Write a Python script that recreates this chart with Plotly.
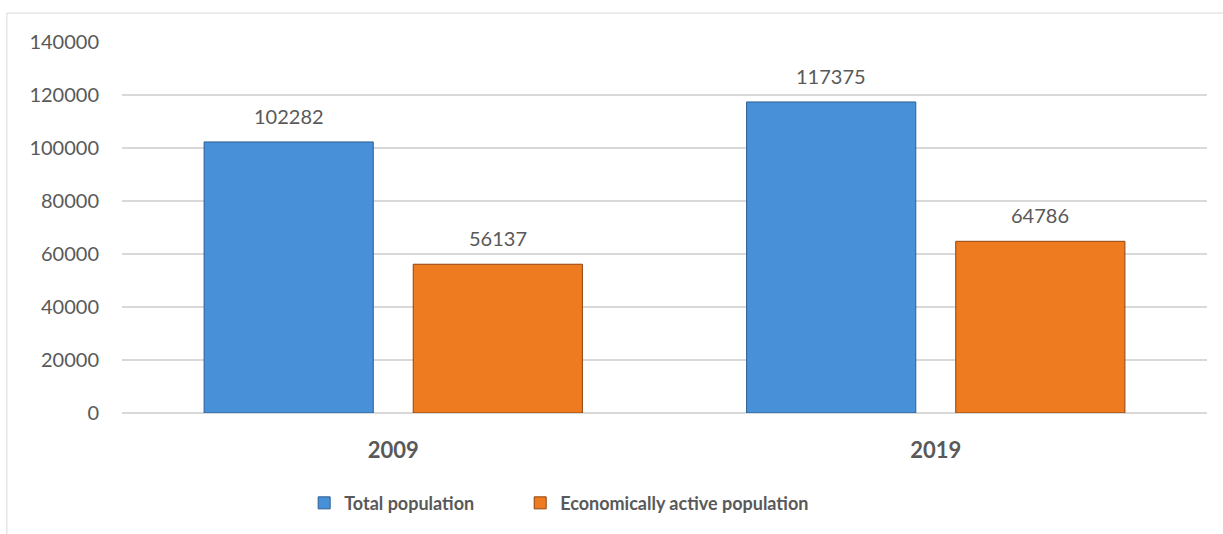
import plotly.graph_objects as go

# Population counts by census year
years = ["2009", "2019"]
total_population = [102282, 117375]
active_population = [56137, 64786]
series_names = ["Total population", "Economically active population"]
y_ticks = [0, 20000, 40000, 60000, 80000, 100000, 120000, 140000]

FONT = "Lato"
TEXT_GREY = "#595959"
GRID_GREY = "#d9d9d9"
BAR_GAP = 0.229
GROUP_GAP = 0.191

fig = go.Figure()
fig.add_trace(go.Bar(
    x=years, y=total_population, name=series_names[0], legend="legend",
    showlegend=True,
    marker=dict(color="#4890d8", line=dict(color="#2c5f93", width=1)),
))
fig.add_trace(go.Bar(
    x=years, y=active_population, name=series_names[1], legend="legend2",
    showlegend=True,
    marker=dict(color="#ee7b1f", line=dict(color="#8f4510", width=1)),
))

# value labels above each bar, offset to the bar's slot within its group
slot_offset = (1 - BAR_GAP) / 4
for i in range(len(years)):
    for sign, values in ((-1, total_population), (1, active_population)):
        fig.add_annotation(
            x=i + sign * slot_offset, y=values[i], text=str(values[i]),
            showarrow=False, yanchor="bottom", yshift=12,
            font=dict(family=FONT, size=20, color=TEXT_GREY),
        )

# light frame around the chart area
fig.add_shape(type="rect", xref="paper", yref="paper",
              x0=-0.1061, x1=1.03, y0=-0.36, y1=1.078,
              line=dict(color=GRID_GREY, width=1), layer="below")

legend_style = dict(
    orientation="h", y=-0.243, yanchor="middle", xanchor="left",
    font=dict(family=FONT, size=18, color=TEXT_GREY, weight="bold"),
    itemwidth=30, bgcolor="rgba(0,0,0,0)", visible=True,
)

fig.update_layout(
    width=1223, height=534,
    margin=dict(l=122, r=16, t=42, b=121),
    paper_bgcolor="white", plot_bgcolor="white",
    showlegend=True,
    barmode="group", bargap=BAR_GAP, bargroupgap=GROUP_GAP,
    font=dict(family=FONT, color=TEXT_GREY),
    legend=dict(x=0.1679, **legend_style),
    legend2=dict(x=0.367, **legend_style),
    xaxis=dict(
        type="category", range=[-0.5, 1.5], showgrid=False, showline=False,
        ticks="", ticklabelstandoff=22,
        tickfont=dict(family=FONT, size=22, color=TEXT_GREY, weight="bold"),
    ),
    yaxis=dict(
        range=[0, 140000], tickvals=y_ticks, ticktext=[str(v) for v in y_ticks],
        showgrid=True, gridcolor=GRID_GREY, gridwidth=1.5,
        zeroline=True, zerolinecolor=GRID_GREY, zerolinewidth=1.5,
        showline=False, ticks="", ticklabelstandoff=22,
        tickfont=dict(family=FONT, size=20, color=TEXT_GREY),
    ),
)

fig.write_html("out.html")
